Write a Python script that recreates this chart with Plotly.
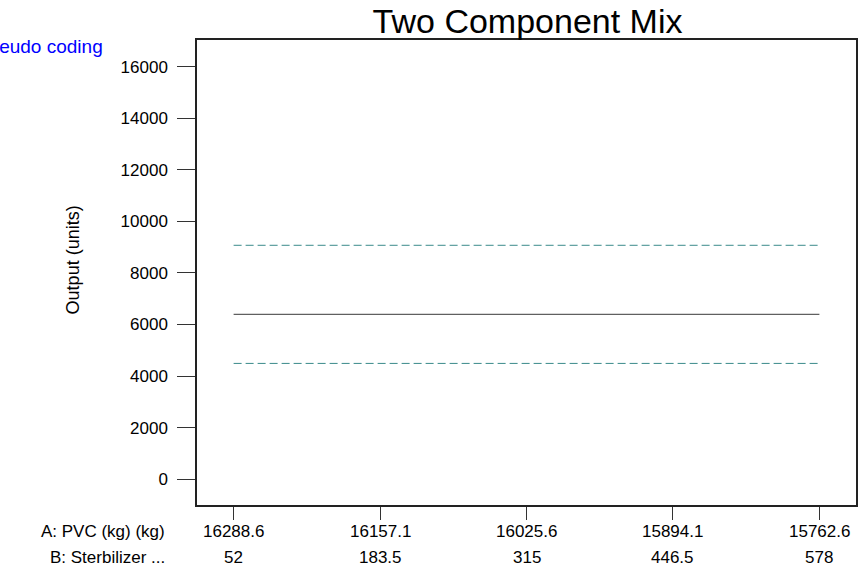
import plotly.graph_objects as go

# Data
x_index = [0, 1, 2, 3, 4]
pvc_labels = ["16288.6", "16157.1", "16025.6", "15894.1", "15762.6"]
stab_labels = ["52", "183.5", "315", "446.5", "578"]
predicted = [6390, 6390, 6390, 6390, 6390]
upper_ci = [9070, 9070, 9070, 9070, 9070]
lower_ci = [4490, 4490, 4490, 4490, 4490]
y_ticks = [0, 2000, 4000, 6000, 8000, 10000, 12000, 14000, 16000]
y_tick_text = ["0", "2000", "4000", "6000", "8000", "10000", "12000", "14000", "16000"]

FONT = "Liberation Sans, Arial, sans-serif"

fig = go.Figure()
fig.add_trace(go.Scatter(x=x_index, y=upper_ci, mode="lines",
                         line=dict(color="#3a8a8a", width=1, dash="8px,4px"),
                         hoverinfo="skip", showlegend=False))
fig.add_trace(go.Scatter(x=x_index, y=predicted, mode="lines",
                         line=dict(color="#606060", width=1.2),
                         showlegend=False))
fig.add_trace(go.Scatter(x=x_index, y=lower_ci, mode="lines",
                         line=dict(color="#3a8a8a", width=1, dash="8px,4px"),
                         hoverinfo="skip", showlegend=False))

annotations = []
for xi, a, b in zip(x_index, pvc_labels, stab_labels):
    annotations.append(dict(x=xi, y=-0.056, xref="x", yref="paper", text=a,
                            showarrow=False, xanchor="center", yanchor="middle",
                            font=dict(family=FONT, size=17, color="black")))
    annotations.append(dict(x=xi, y=-0.112, xref="x", yref="paper", text=b,
                            showarrow=False, xanchor="center", yanchor="middle",
                            font=dict(family=FONT, size=17, color="black")))
annotations.append(dict(x=-0.045, y=-0.056, xref="paper", yref="paper",
                        text="A: PVC (kg) (kg)", showarrow=False,
                        xanchor="right", yanchor="middle",
                        font=dict(family=FONT, size=17, color="black")))
annotations.append(dict(x=-0.045, y=-0.112, xref="paper", yref="paper",
                        text="B: Sterbilizer ...", showarrow=False,
                        xanchor="right", yanchor="middle",
                        font=dict(family=FONT, size=17, color="black")))
annotations.append(dict(x=-0.139, y=0.987, xref="paper", yref="paper",
                        text="Pseudo coding", showarrow=False,
                        xanchor="right", yanchor="middle",
                        font=dict(family=FONT, size=19, color="#0000ff")))
annotations.append(dict(x=-0.189, y=0.527, xref="paper", yref="paper",
                        text="Output (units)", showarrow=False, textangle=-90,
                        xanchor="center", yanchor="middle",
                        font=dict(family=FONT, size=18, color="black")))

fig.update_layout(
    width=864, height=568,
    margin=dict(l=197, r=6, t=40, b=63),
    paper_bgcolor="white", plot_bgcolor="white",
    title=dict(text="Two Component Mix", x=0.6106, xanchor="center",
               y=0.963, yanchor="middle",
               font=dict(family=FONT, size=34, color="black")),
    xaxis=dict(range=[-0.25, 4.25], tickvals=x_index, showticklabels=False,
               ticks="outside", ticklen=13, tickcolor="#333", tickwidth=1,
               showgrid=False, zeroline=False, showline=True,
               linecolor="#222", linewidth=1.5, mirror=True),
    yaxis=dict(range=[-1000, 17030], tickvals=y_ticks, ticktext=y_tick_text,
               ticks="outside", ticklen=18, tickcolor="#333", tickwidth=1,
               ticklabelstandoff=6,
               tickfont=dict(family=FONT, size=17, color="black"),
               showgrid=False, zeroline=False, showline=True,
               linecolor="#222", linewidth=1.5, mirror=True),
    annotations=annotations,
    font=dict(family=FONT),
)

fig.write_html("out.html")
